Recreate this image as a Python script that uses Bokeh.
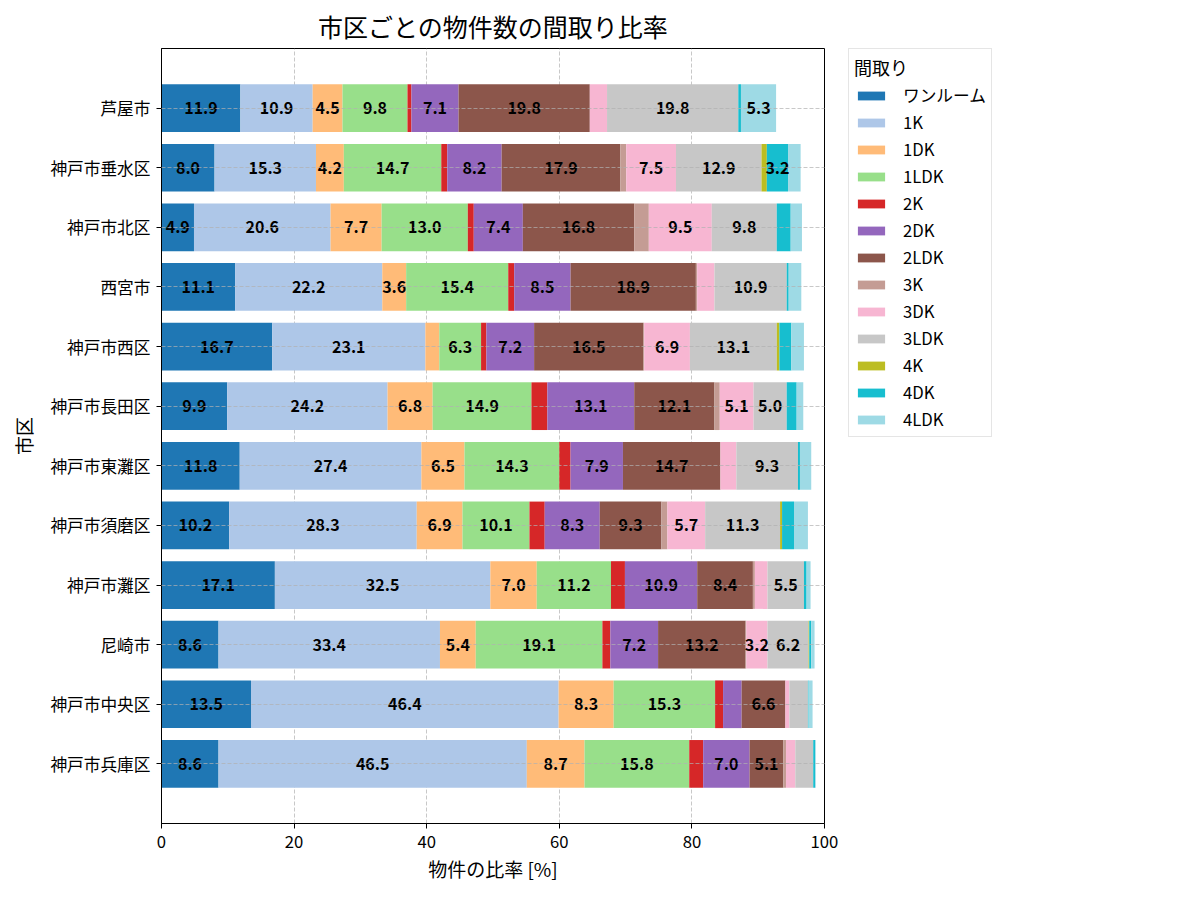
from bokeh.plotting import figure
from bokeh.models import ColumnDataSource, Range1d, FactorRange, Legend, LegendItem
from bokeh.core.properties import value
from bokeh.embed import file_html
from bokeh.resources import INLINE

FONT = "Noto Sans CJK JP"

# 市区 (上から下の順)
cities = ["芦屋市", "神戸市垂水区", "神戸市北区", "西宮市", "神戸市西区", "神戸市長田区",
          "神戸市東灘区", "神戸市須磨区", "神戸市灘区", "尼崎市", "神戸市中央区", "神戸市兵庫区"]

layouts = ["ワンルーム", "1K", "1DK", "1LDK", "2K", "2DK", "2LDK",
           "3K", "3DK", "3LDK", "4K", "4DK", "4LDK"]

# 間取りごとの比率 [%] (cities と同じ順)
one_room = [11.9, 8.0, 4.9, 11.1, 16.7, 9.9, 11.8, 10.2, 17.1, 8.6, 13.5, 8.6]
k1 = [10.9, 15.3, 20.6, 22.2, 23.1, 24.2, 27.4, 28.3, 32.5, 33.4, 46.4, 46.5]
dk1 = [4.5, 4.2, 7.7, 3.6, 2.1, 6.8, 6.5, 6.9, 7.0, 5.4, 8.3, 8.7]
ldk1 = [9.8, 14.7, 13.0, 15.4, 6.3, 14.9, 14.3, 10.1, 11.2, 19.1, 15.3, 15.8]
k2 = [0.6, 0.9, 0.9, 0.9, 0.8, 2.4, 1.7, 2.3, 2.1, 1.2, 1.2, 2.1]
dk2 = [7.1, 8.2, 7.4, 8.5, 7.2, 13.1, 7.9, 8.3, 10.9, 7.2, 2.8, 7.0]
ldk2 = [19.8, 17.9, 16.8, 18.9, 16.5, 12.1, 14.7, 9.3, 8.4, 13.2, 6.6, 5.1]
k3 = [0.0, 0.9, 2.2, 0.2, 0.1, 0.8, 0.0, 0.9, 0.3, 0.1, 0.0, 0.4]
dk3 = [2.6, 7.5, 9.5, 2.6, 6.9, 5.1, 2.4, 5.7, 1.9, 3.2, 0.6, 1.4]
ldk3 = [19.8, 12.9, 9.8, 10.9, 13.1, 5.0, 9.3, 11.3, 5.5, 6.2, 2.8, 2.7]
k4 = [0.0, 0.8, 0.0, 0.0, 0.4, 0.0, 0.0, 0.3, 0.0, 0.1, 0.0, 0.0]
dk4 = [0.4, 3.2, 2.1, 0.3, 1.8, 1.5, 0.3, 1.8, 0.4, 0.3, 0.1, 0.3]
ldk4 = [5.3, 1.9, 1.7, 1.9, 1.9, 1.0, 1.7, 2.1, 0.6, 0.5, 0.6, 0.1]

colors = ["#1f77b4", "#aec7e8", "#ffbb78", "#98df8a", "#d62728", "#9467bd", "#8c564b",
          "#c49c94", "#f7b6d2", "#c7c7c7", "#bcbd22", "#17becf", "#9edae5"]

series = [one_room, k1, dk1, ldk1, k2, dk2, ldk2, k3, dk3, ldk3, k4, dk4, ldk4]
keys = ["s%d" % i for i in range(len(layouts))]

data = {"city": cities}
for k, s in zip(keys, series):
    data[k] = s
source = ColumnDataSource(data)

# ラベル位置 (3%以上のみ)
lx, ly, lt = [], [], []
for j, c in enumerate(cities):
    left = 0.0
    for s in series:
        v = s[j]
        if v >= 3:
            lx.append(left + v / 2)
            ly.append(c)
            lt.append("%.1f" % v)
        left += v
label_src = ColumnDataSource(dict(x=lx, y=ly, t=lt))

p = figure(frame_width=663, frame_height=775, output_backend="svg", toolbar_location=None,
           x_range=Range1d(0, 100),
           y_range=FactorRange(factors=cities[::-1], range_padding=0.5,
                               range_padding_units="absolute"),
           min_border_left=161, min_border_top=48, min_border_bottom=60,
           min_border_right=10)

p.title.text = "市区ごとの物件数の間取り比率"
p.title.align = "center"
p.title.text_font = FONT
p.title.text_font_size = "25px"
p.title.text_font_style = "normal"
p.title.text_color = "black"

renderers = p.hbar_stack(keys, y="city", height=0.8, color=colors, source=source,
                         line_color=None)

p.text(x="x", y="y", text="t", source=label_src, text_align="center",
       text_baseline="middle", text_font=value(FONT), text_font_size="16px",
       text_font_style="bold", text_color="black")

legend = Legend(items=[LegendItem(label=l, renderers=[r]) for l, r in zip(layouts, renderers)],
                location=(24, 386), title="間取り")
legend.title_text_font = FONT
legend.title_text_font_size = "18px"
legend.title_text_font_style = "normal"
legend.title_text_color = "black"
legend.title_standoff = 3
legend.label_text_font = FONT
legend.label_text_font_size = "16.7px"
legend.label_text_color = "black"
legend.glyph_width = 34
legend.glyph_height = 11
legend.label_height = 21
legend.label_standoff = 15
legend.spacing = 3
legend.padding = 5
legend.margin = 0
legend.border_line_color = "#cccccc"
legend.border_line_width = 1
legend.background_fill_alpha = 0.8
p.add_layout(legend, "right")

for ax in (p.xaxis, p.yaxis):
    ax.major_label_text_font = FONT
    ax.major_label_text_font_size = "16.7px"
    ax.major_label_text_color = "black"
    ax.axis_label_text_font = FONT
    ax.axis_label_text_font_size = "19px"
    ax.axis_label_text_font_style = "normal"
    ax.axis_label_text_color = "black"
    ax.minor_tick_line_color = None
    ax.major_tick_out = 5
    ax.major_tick_in = 0
    ax.axis_line_color = "black"
    ax.major_tick_line_color = "black"

p.xaxis.axis_label = "物件の比率 [%]"
p.yaxis.axis_label = "市区"
p.xaxis.ticker = [0, 20, 40, 60, 80, 100]
p.xaxis.major_label_standoff = 6
p.yaxis.major_label_standoff = 6
p.xaxis.axis_label_standoff = 4
p.yaxis.axis_label_standoff = 10

p.outline_line_color = "black"
p.outline_line_width = 1
p.outline_line_alpha = 1

p.xgrid.grid_line_color = "#b0b0b0"
p.xgrid.grid_line_dash = "4 2"
p.xgrid.grid_line_alpha = 0.7
p.ygrid.grid_line_color = "#b0b0b0"
p.ygrid.grid_line_dash = "4 2"
p.ygrid.grid_line_alpha = 0.7
p.ygrid.level = "overlay"

open("out.html", "w").write(file_html(p, INLINE))
